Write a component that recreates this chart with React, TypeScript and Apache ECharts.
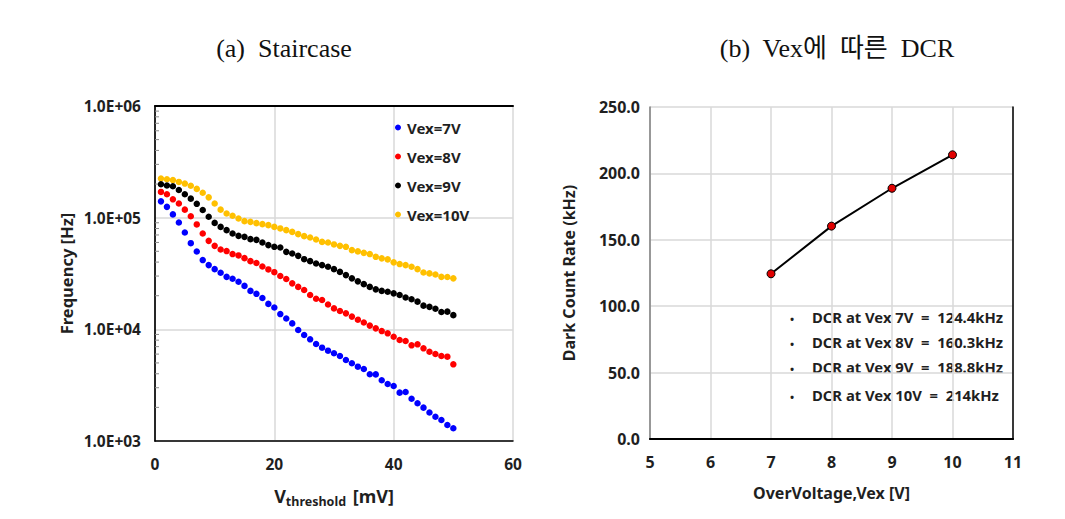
import React, { useEffect, useRef } from "react";
import * as echarts from "echarts";

const thresholds = [
  1, 2, 3, 4, 5, 6, 7, 8, 9, 10, 11, 12, 13, 14, 15, 16, 17, 18, 19, 20, 21, 22, 23, 24, 25,
  26, 27, 28, 29, 30, 31, 32, 33, 34, 35, 36, 37, 38, 39, 40, 41, 42, 43, 44, 45, 46, 47, 48, 49, 50,
];
const vex7 = [
  140000, 125000, 107000, 90600, 73700, 59100, 49800, 41700, 37600, 34600, 32100, 29500, 28400, 26700, 24500,
  22100, 20800, 19100, 16900, 15700, 13700, 12500, 11300, 9860, 8890, 8140, 7390, 6850, 6440, 6100,
  5770, 5310, 4970, 4630, 4410, 3960, 3950, 3500, 3240, 3110, 2710, 2750, 2390, 2180, 1990,
  1800, 1650, 1540, 1390, 1300,
];
const vex8 = [
  170000, 162000, 146000, 134000, 118000, 103000, 87000, 72200, 62000, 55900, 51900, 50200, 47200, 45900, 43400,
  40800, 39300, 36500, 34400, 32500, 30000, 28200, 25800, 24000, 22500, 20300, 18800, 18300, 16700, 15400,
  14600, 13900, 13000, 12200, 11500, 10800, 10200, 9650, 9210, 8590, 8020, 7860, 7190, 7340, 6760,
  6300, 6010, 5770, 5690, 4860,
];
const vex9 = [
  199000, 194000, 191000, 177000, 162000, 148000, 133000, 117000, 102000, 89800, 82700, 77300, 72200, 68700, 67300,
  64200, 63300, 60000, 56800, 54800, 54100, 49400, 47800, 45500, 42500, 40800, 38900, 37600, 36300, 34600,
  32700, 30600, 28600, 26900, 25400, 24000, 22800, 22100, 21700, 21000, 20300, 19300, 18600, 17700, 16300,
  15900, 15300, 14300, 14400, 13400,
];
const vex10 = [
  224000, 221000, 217000, 209000, 202000, 193000, 181000, 167000, 152000, 134000, 118000, 109000, 104000, 98300, 93100,
  91700, 89300, 87500, 85700, 82700, 80100, 77300, 74600, 71200, 68300, 66500, 63800, 60700, 60000, 57600,
  55900, 54800, 51200, 49900, 48400, 47200, 44600, 43200, 42300, 39800, 38400, 37600, 36300, 34600, 32300,
  31700, 31000, 29500, 29400, 28600,
];
const seriesNames = ["Vex=7V", "Vex=8V", "Vex=9V", "Vex=10V"];
const seriesColors = ["#0000ff", "#ff0000", "#000000", "#ffc000"];
const minorTickValues = [
  2000, 3000, 4000, 5000, 6000, 7000, 8000, 9000,
  20000, 30000, 40000, 50000, 60000, 70000, 80000, 90000,
  200000, 300000, 400000, 500000, 600000, 700000, 800000, 900000,
];

const overVoltage = [7, 8, 9, 10];
const dcr = [124.4, 160.3, 188.8, 214];
const dcrNotes = [
  "DCR at Vex 7V  =  124.4kHz",
  "DCR at Vex 8V  =  160.3kHz",
  "DCR at Vex 9V  =  188.8kHz",
  "DCR at Vex 10V  =  214kHz",
];

const FONT = "'Noto Sans', 'Noto Sans CJK KR', sans-serif";
const LABEL = { color: "#1f1f1f", fontFamily: FONT, fontSize: 14.5, fontWeight: "bold" as const };

export default function App() {
  const ref = useRef<HTMLDivElement>(null);
  useEffect(() => {
    if (!ref.current) return;
    const chart = echarts.init(ref.current, undefined, { renderer: "svg" });
    const staircase = [vex7, vex8, vex9, vex10];
    const option: any = {
      animation: false,
      backgroundColor: "#ffffff",
      title: [
        {
          text: "(a)  Staircase",
          left: 279,
          top: 30,
          textAlign: "center",
          textStyle: { fontFamily: "'Liberation Serif', serif", fontSize: 26, fontWeight: "normal", color: "#111" },
        },
        {
          text: "(b)  Vex에  따른  DCR",
          left: 832,
          top: 30,
          textAlign: "center",
          textStyle: { fontFamily: "'Liberation Serif', 'Noto Sans CJK KR', serif", fontSize: 26, fontWeight: "normal", color: "#111" },
        },
      ],
      legend: {
        data: seriesNames,
        orient: "vertical",
        left: 390,
        top: 115,
        icon: "circle",
        itemWidth: 6,
        itemHeight: 6,
        itemGap: 14,
        textStyle: { ...LABEL, fontSize: 15, padding: [0, 0, 0, 1] },
      },
      grid: [
        { left: 155, top: 106, width: 358, height: 335 },
        { left: 650, top: 107, width: 363, height: 332 },
      ],
      xAxis: [
        {
          gridIndex: 0,
          type: "value",
          min: 0,
          max: 60,
          interval: 20,
          axisLine: { show: true, lineStyle: { color: "#000", width: 1.5 } },
          axisTick: { show: false },
          axisLabel: { ...LABEL, fontSize: 15.5, margin: 15 },
          splitLine: { show: true, lineStyle: { color: "#d9d9d9", width: 1.5 } },
          name: "{v|V}{s|threshold}  {v|[mV]}",
          nameLocation: "middle",
          nameGap: 44,
          nameTextStyle: {
            rich: {
              v: { ...LABEL, fontSize: 18 },
              s: { ...LABEL, fontSize: 12.5, padding: [10, 0, 0, 0] },
            },
          },
        },
        {
          gridIndex: 0,
          type: "value",
          position: "top",
          min: 0,
          max: 60,
          axisLine: { show: true, lineStyle: { color: "#000", width: 2 } },
          axisTick: { show: false },
          axisLabel: { show: false },
          splitLine: { show: false },
        },
        {
          gridIndex: 1,
          type: "value",
          min: 5,
          max: 11,
          interval: 1,
          axisLine: { show: true, lineStyle: { color: "#000", width: 1.5 } },
          axisTick: { show: false },
          axisLabel: { ...LABEL, fontSize: 16, margin: 15 },
          splitLine: { show: true, lineStyle: { color: "#d9d9d9", width: 1.5 } },
          name: "OverVoltage,Vex [V]",
          nameLocation: "middle",
          nameGap: 46,
          nameTextStyle: { ...LABEL, fontSize: 16 },
        },
        {
          gridIndex: 1,
          type: "value",
          position: "top",
          min: 5,
          max: 11,
          axisLine: { show: true, lineStyle: { color: "#000", width: 2 } },
          axisTick: { show: false },
          axisLabel: { show: false },
          splitLine: { show: false },
        },
      ],
      yAxis: [
        {
          gridIndex: 0,
          type: "log",
          min: 1000,
          max: 1000000,
          logBase: 10,
          axisLine: { show: true, lineStyle: { color: "#7f7f7f", width: 1.5 } },
          axisTick: { show: false },
          axisLabel: {
            ...LABEL,
            fontSize: 15.5,
            margin: 14,
            formatter: (v: number) => {
              const e = Math.round(Math.log10(v));
              return "1.0E+" + (e < 10 ? "0" + e : "" + e);
            },
          },
          splitLine: { show: true, lineStyle: { color: "#d9d9d9", width: 1.5 } },
          name: "Frequency [Hz]",
          nameLocation: "middle",
          nameGap: 80,
          nameTextStyle: { ...LABEL, fontSize: 16.5 },
        },
        {
          gridIndex: 0,
          type: "value",
          position: "right",
          min: 0,
          max: 1,
          axisLine: { show: true, lineStyle: { color: "#000", width: 1.5 } },
          axisTick: { show: false },
          axisLabel: { show: false },
          splitLine: { show: false },
        },
        {
          gridIndex: 1,
          type: "value",
          min: 0,
          max: 250,
          interval: 50,
          axisLine: { show: true, lineStyle: { color: "#7f7f7f", width: 1.5 } },
          axisTick: { show: false },
          axisLabel: { ...LABEL, fontSize: 16, margin: 10, formatter: (v: number) => v.toFixed(1) },
          splitLine: { show: true, lineStyle: { color: "#d9d9d9", width: 1.5 } },
          name: "Dark Count Rate (kHz)",
          nameLocation: "middle",
          nameGap: 73,
          nameTextStyle: { ...LABEL, fontSize: 16 },
        },
        {
          gridIndex: 1,
          type: "value",
          position: "right",
          min: 0,
          max: 1,
          axisLine: { show: true, lineStyle: { color: "#000", width: 1.5 } },
          axisTick: { show: false },
          axisLabel: { show: false },
          splitLine: { show: false },
        },
      ],
      series: [
        ...staircase.map((vals, i) => ({
          name: seriesNames[i],
          type: "scatter",
          xAxisIndex: 0,
          yAxisIndex: 0,
          symbol: "circle",
          symbolSize: 6.5,
          itemStyle: { color: seriesColors[i], opacity: 1 },
          data: thresholds.map((t, j) => [t, vals[j]]),
          z: 5 - i,
        })),
        {
          name: "minorTicks",
          type: "custom",
          xAxisIndex: 0,
          yAxisIndex: 0,
          silent: true,
          clip: false,
          data: minorTickValues.map((v) => [0, v]),
          renderItem: (_p: any, api: any) => {
            const pt = api.coord([api.value(0), api.value(1)]);
            return {
              type: "line",
              shape: { x1: pt[0], y1: pt[1], x2: pt[0] + 4, y2: pt[1] },
              style: { stroke: "#8c8c8c", lineWidth: 1 },
            };
          },
        },
        {
          name: "DCR",
          type: "line",
          xAxisIndex: 2,
          yAxisIndex: 2,
          symbol: "circle",
          symbolSize: 8,
          lineStyle: { color: "#000", width: 2 },
          itemStyle: { color: "#e00000", borderColor: "#000", borderWidth: 1 },
          data: overVoltage.map((v, i) => [v, dcr[i]]),
          z: 5,
        },
      ],
      graphic: dcrNotes.map((t, i) => ({
        type: "group",
        left: 790,
        top: 310 + i * 25 + (i === 3 ? 3 : 0),
        children: [
          { type: "text", x: 0, y: 3, style: { text: "•", fill: "#1f1f1f", font: `bold 11px ${FONT}` } },
          { type: "text", x: 22, y: 0, style: { text: t, fill: "#1f1f1f", font: `bold 14.8px ${FONT}` } },
        ],
      })),
    };
    chart.setOption(option);
    return () => chart.dispose();
  }, []);
  return <div ref={ref} style={{ position: "fixed", left: 0, top: 0, width: 1065, height: 519 }} />;
}
